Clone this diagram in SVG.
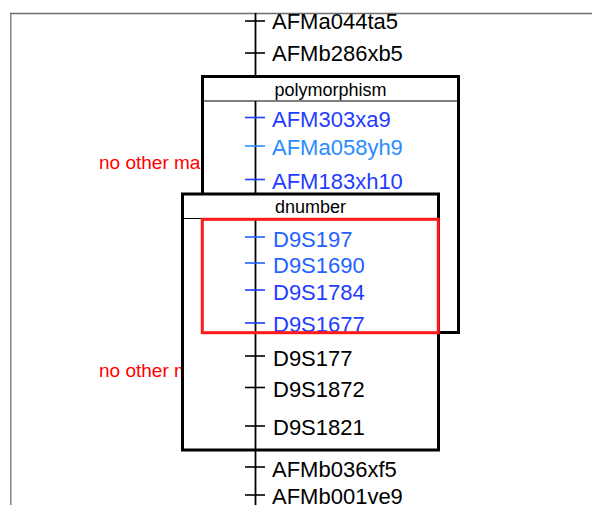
<svg xmlns="http://www.w3.org/2000/svg" width="592" height="505" viewBox="0 0 592 505">
<style>
  text { font-family: "Liberation Sans", Arial, sans-serif; }
  .lbl { font-size: 22px; fill: #000; }
  .tick { stroke: #000; stroke-width: 1.6; }
  .axis { stroke: #000; stroke-width: 1.8; fill: none; }
  .box { fill: #fff; stroke: #000; stroke-width: 3; }
  .hdr { stroke: #000; stroke-width: 1.2; }
  .htxt { font-size: 18px; fill: #000; text-anchor: middle; }
  .note { font-size: 19px; fill: #ff0000; }
  .b1 { fill: #1f3cff; } .b1t { stroke: #1f3cff; }
  .b2 { fill: #2a8cff; } .b2t { stroke: #2a8cff; }
  .b3 { fill: #1f62ff; } .b3t { stroke: #1f62ff; }
</style>
<g id="frame">
  <line x1="10" y1="13.5" x2="592" y2="13.5" stroke="#6e6e6e" stroke-width="1.3"/>
  <line x1="10.8" y1="13" x2="10.8" y2="505" stroke="#6e6e6e" stroke-width="1.3"/>
</g>
<g id="note1"><text class="note" x="99" y="168.5">no other ma</text></g>
<g id="note2"><text class="note" x="99" y="376.5">no other m</text></g>
<g id="connectors-top">
  <line class="axis" x1="255.5" y1="13" x2="255.5" y2="77"/>
</g>
<g id="m-AFMa044ta5"><line class="tick" x1="245" y1="21" x2="265" y2="21"/><text class="lbl" x="272" y="28.5">AFMa044ta5</text></g>
<g id="m-AFMb286xb5"><line class="tick" x1="245" y1="53" x2="265" y2="53"/><text class="lbl" x="272" y="60.5">AFMb286xb5</text></g>

<g id="box-polymorphism">
  <rect class="box" x="202.5" y="76.5" width="256" height="256"/>
  <line class="hdr" x1="202.5" y1="101" x2="458.5" y2="101"/>
  <text class="htxt" x="330.5" y="95.8">polymorphism</text>
</g>
<g id="connectors-poly">
  <line class="axis" x1="255.5" y1="101" x2="255.5" y2="194"/>
</g>
<g id="m-AFM303xa9"><line class="tick b1t" x1="245" y1="117.5" x2="265" y2="117.5"/><text class="lbl b1" x="272" y="126.5">AFM303xa9</text></g>
<g id="m-AFMa058yh9"><line class="tick b2t" x1="245" y1="146" x2="265" y2="146"/><text class="lbl b2" x="272" y="155">AFMa058yh9</text></g>
<g id="m-AFM183xh10"><line class="tick b1t" x1="245" y1="179.5" x2="265" y2="179.5"/><text class="lbl b1" x="272" y="189">AFM183xh10</text></g>

<g id="box-dnumber">
  <rect class="box" x="182.5" y="194" width="256" height="256"/>
  <line class="hdr" x1="182.5" y1="218.5" x2="438.5" y2="218.5"/>
  <text class="htxt" x="310.5" y="213.3">dnumber</text>
</g>
<g id="connectors-main">
  <line class="axis" x1="255.5" y1="218.5" x2="255.5" y2="505"/>
</g>
<g id="m-D9S197"><line class="tick b3t" x1="245" y1="237" x2="265" y2="237"/><text class="lbl b3" x="273" y="246.5">D9S197</text></g>
<g id="m-D9S1690"><line class="tick b3t" x1="245" y1="263" x2="265" y2="263"/><text class="lbl b3" x="273" y="272.5">D9S1690</text></g>
<g id="m-D9S1784"><line class="tick b1t" x1="245" y1="290" x2="265" y2="290"/><text class="lbl b1" x="273" y="300">D9S1784</text></g>
<g id="m-D9S1677"><line class="tick b1t" x1="245" y1="323" x2="265" y2="323"/><text class="lbl b1" x="273" y="332">D9S1677</text></g>
<g id="highlight">
  <rect x="202.3" y="219.3" width="236" height="113.4" fill="none" stroke="#ff1a1a" stroke-width="3"/>
</g>
<g id="m-D9S177"><line class="tick" x1="245" y1="356" x2="265" y2="356"/><text class="lbl" x="273" y="366">D9S177</text></g>
<g id="m-D9S1872"><line class="tick" x1="245" y1="387.5" x2="265" y2="387.5"/><text class="lbl" x="273" y="396.5">D9S1872</text></g>
<g id="m-D9S1821"><line class="tick" x1="245" y1="426" x2="265" y2="426"/><text class="lbl" x="273" y="435">D9S1821</text></g>
<g id="m-AFMb036xf5"><line class="tick" x1="245" y1="467" x2="265" y2="467"/><text class="lbl" x="272" y="476.5">AFMb036xf5</text></g>
<g id="m-AFMb001ve9"><line class="tick" x1="245" y1="495" x2="265" y2="495"/><text class="lbl" x="272" y="503.5">AFMb001ve9</text></g>
</svg>
